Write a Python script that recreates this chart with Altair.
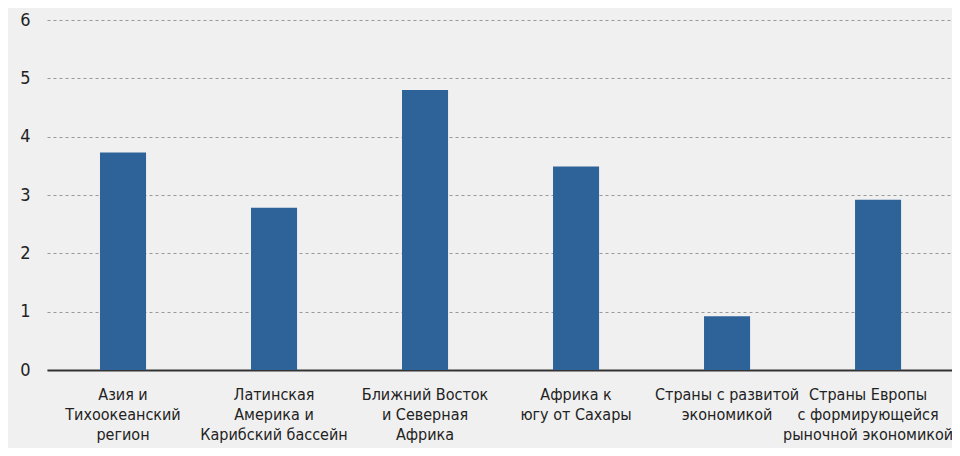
import altair as alt
import pandas as pd

categories = [
    "Азия и|Тихоокеанский|регион",
    "Латинская|Америка и|Карибский бассейн",
    "Ближний Восток|и Северная|Африка",
    "Африка к|югу от Сахары",
    "Страны с развитой|экономикой",
    "Страны Европы|с формирующейся|рыночной экономикой",
]
values = [3.73, 2.78, 4.80, 3.49, 0.92, 2.92]
y_ticks = [0, 1, 2, 3, 4, 5, 6]

df = pd.DataFrame({"region": categories, "value": values})

FONT = "DejaVu Sans Condensed, Lato, sans-serif"

chart = alt.Chart(df).mark_bar(color="#2e6399").encode(
    x=alt.X(
        "region:N",
        sort=categories,
        title=None,
        scale=alt.Scale(paddingInner=0.695, paddingOuter=0.344, align=0.51),
        axis=alt.Axis(
            labelExpr="split(datum.label, '|')",
            labelAngle=0,
            labelFontSize=16,
            labelLineHeight=20,
            labelColor="#222222",
            labelFont=FONT,
            labelPadding=16,
            labelLimit=300,
            labelOffset=alt.expr("datum.index == 1 ? -10 : 0"),
            ticks=False,
            domainColor="#333333",
            domainWidth=2,
            grid=False,
        ),
    ),
    y=alt.Y(
        "value:Q",
        title=None,
        scale=alt.Scale(domain=[0, 6], nice=False),
        axis=alt.Axis(
            values=y_ticks,
            format="d",
            labelFontSize=18,
            labelColor="#222222",
            labelFont=FONT,
            labelPadding=17,
            ticks=False,
            domain=False,
            grid=True,
            gridColor="#999999",
            gridDash=[3, 3],
            gridWidth=1,
        ),
    ),
).properties(
    width=905,
    height=350,
    background="#f0f0f0",
    autosize=alt.AutoSizeParams(type="none"),
    padding={"left": 39, "top": 12, "right": 0, "bottom": 78},
).configure_view(stroke=None)

chart.save("out.html", embed_options={"renderer": "svg", "actions": False})
